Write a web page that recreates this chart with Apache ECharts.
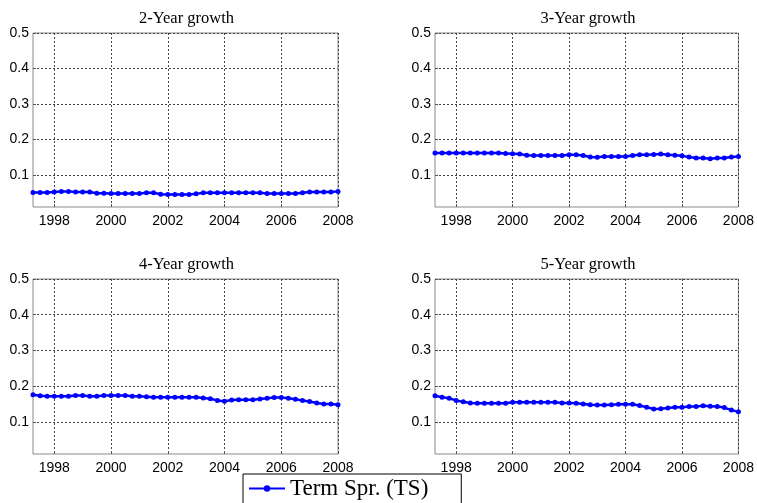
<!DOCTYPE html>
<html>
<head>
<meta charset="utf-8">
<script src="https://cdn.jsdelivr.net/npm/echarts@6/dist/echarts.min.js"></script>
<style>
  html, body { margin: 0; padding: 0; background: #fff; }
  #chart { width: 757px; height: 503px; }
</style>
</head>
<body>
<div id="chart"></div>
<script>
// Quarterly observation dates, 1997Q2 .. 2008Q1
var quarters = [
  1997.25, 1997.5, 1997.75,
  1998.0, 1998.25, 1998.5, 1998.75,
  1999.0, 1999.25, 1999.5, 1999.75,
  2000.0, 2000.25, 2000.5, 2000.75,
  2001.0, 2001.25, 2001.5, 2001.75,
  2002.0, 2002.25, 2002.5, 2002.75,
  2003.0, 2003.25, 2003.5, 2003.75,
  2004.0, 2004.25, 2004.5, 2004.75,
  2005.0, 2005.25, 2005.5, 2005.75,
  2006.0, 2006.25, 2006.5, 2006.75,
  2007.0, 2007.25, 2007.5, 2007.75,
  2008.0
];

var panelTitles = ['2-Year growth', '3-Year growth', '4-Year growth', '5-Year growth'];
var seriesName = 'Term Spr. (TS)';

var growth2y = [
  0.051, 0.051, 0.051,
  0.052, 0.054, 0.054, 0.052,
  0.052, 0.052, 0.049, 0.049,
  0.048, 0.048, 0.048, 0.048,
  0.048, 0.050, 0.050, 0.046,
  0.045, 0.045, 0.045, 0.045,
  0.047, 0.050, 0.050, 0.050,
  0.050, 0.050, 0.050, 0.050,
  0.050, 0.050, 0.048, 0.048,
  0.048, 0.048, 0.048, 0.050,
  0.052, 0.052, 0.052, 0.052,
  0.054
];

var growth3y = [
  0.162, 0.162, 0.162,
  0.162, 0.162, 0.162, 0.162,
  0.162, 0.162, 0.162, 0.161,
  0.160, 0.159, 0.156, 0.155,
  0.155, 0.155, 0.155, 0.155,
  0.157, 0.157, 0.155, 0.151,
  0.150, 0.152, 0.152, 0.152,
  0.152, 0.155, 0.157, 0.157,
  0.158, 0.159, 0.157, 0.156,
  0.154, 0.151, 0.148, 0.148,
  0.146, 0.148, 0.148, 0.151,
  0.152
];

var growth4y = [
  0.176, 0.173, 0.172,
  0.172, 0.172, 0.172, 0.174,
  0.174, 0.172, 0.172, 0.174,
  0.174, 0.174, 0.174, 0.172,
  0.172, 0.170, 0.169, 0.169,
  0.169, 0.169, 0.169, 0.169,
  0.169, 0.167, 0.165, 0.160,
  0.158, 0.161, 0.162, 0.162,
  0.162, 0.164, 0.166, 0.168,
  0.168, 0.166, 0.163, 0.160,
  0.157, 0.153, 0.150, 0.150,
  0.148
];

var growth5y = [
  0.173, 0.169, 0.166,
  0.160, 0.156, 0.153, 0.152,
  0.152, 0.152, 0.152, 0.152,
  0.155, 0.155, 0.155, 0.155,
  0.155, 0.155, 0.155, 0.153,
  0.153, 0.152, 0.150, 0.148,
  0.147, 0.147, 0.148, 0.149,
  0.149, 0.149, 0.146, 0.141,
  0.136, 0.137, 0.139, 0.141,
  0.141, 0.143, 0.143, 0.145,
  0.144, 0.143, 0.140, 0.133,
  0.128
];

var yearTicks = [1998, 2000, 2002, 2004, 2006, 2008];
var valueTicks = [0.1, 0.2, 0.3, 0.4, 0.5];

var panelSeries = [growth2y, growth3y, growth4y, growth5y];

// panel frames: [left, top, width, height]
var frames = [
  [33, 33, 305, 174],
  [435, 33, 304, 174],
  [33, 279, 305, 175],
  [435, 279, 304, 175]
];

var grids = [], xAxes = [], yAxes = [], series = [], titles = [];
var lineDash = { type: [2, 2], color: '#444', width: 1 };

frames.forEach(function (f, i) {
  grids.push({
    left: f[0], top: f[1], width: f[2], height: f[3],
    show: true, borderColor: '#8a8a8a', borderWidth: 1, backgroundColor: '#fff'
  });
  xAxes.push({
    type: 'value', gridIndex: i, min: 1997.25, max: 2008,
    axisLine: { show: false },
    axisTick: { show: true, inside: true, length: 3, customValues: yearTicks, lineStyle: { color: '#555' } },
    splitLine: { show: true, lineStyle: lineDash },
    axisLabel: {
      customValues: yearTicks, color: '#000', fontFamily: 'Liberation Sans, Arial, sans-serif',
      fontSize: 14, margin: 7, formatter: function (v) { return String(Math.round(v)); }
    }
  });
  yAxes.push({
    type: 'value', gridIndex: i, min: 0.01, max: 0.5,
    axisLine: { show: false },
    axisTick: { show: true, inside: true, length: 3, customValues: valueTicks, lineStyle: { color: '#555' } },
    splitLine: { show: true, lineStyle: lineDash },
    axisLabel: {
      customValues: valueTicks, color: '#000', fontFamily: 'Liberation Sans, Arial, sans-serif',
      fontSize: 14, margin: 4, formatter: function (v) { return v.toFixed(1); }
    }
  });
  titles.push({
    text: panelTitles[i],
    left: f[0] + f[2] / 2 - 4, top: f[1] - 28, textAlign: 'center',
    textStyle: { fontFamily: 'Liberation Serif, Times New Roman, serif', fontWeight: 'normal', fontSize: 16.5, color: '#000' }
  });
  series.push({
    name: seriesName, type: 'line', xAxisIndex: i, yAxisIndex: i,
    data: quarters.map(function (q, k) { return [q, panelSeries[i][k]]; }),
    symbol: 'circle', symbolSize: 5, showSymbol: true,
    lineStyle: { color: '#0000ff', width: 2.5 },
    itemStyle: { color: '#0000ff' },
    animation: false
  });
});

var chart = echarts.init(document.getElementById('chart'), null, { renderer: 'canvas' });
chart.setOption({
  animation: false,
  backgroundColor: '#fff',
  title: titles,
  grid: grids,
  xAxis: xAxes,
  yAxis: yAxes,
  legend: {
    data: [seriesName],
    left: 243, top: 474,
    orient: 'horizontal',
    backgroundColor: '#fff',
    borderColor: '#000', borderWidth: 1,
    padding: [3, 33, 20, 5],
    itemWidth: 36, itemHeight: 8, itemGap: 4,
    textStyle: { fontFamily: 'Liberation Serif, Times New Roman, serif', fontSize: 23, color: '#000' }
  },
  series: series
});
</script>
</body>
</html>
